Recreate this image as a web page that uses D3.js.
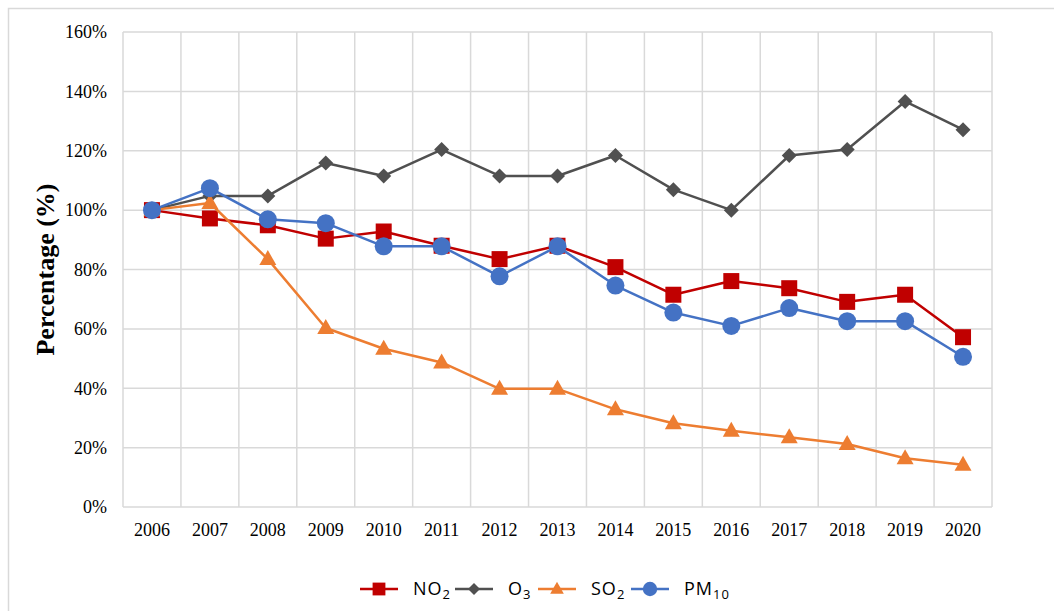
<!DOCTYPE html>
<html>
<head>
<meta charset="utf-8">
<script src="https://cdn.jsdelivr.net/npm/d3@7"></script>
<style>
	body { margin: 0; background: #fff; }
	svg { display: block; }
</style>
</head>
<body>
<svg id="chart"></svg>
<script>
// chart values
const years = ["2006", "2007", "2008", "2009", "2010", "2011", "2012", "2013", "2014", "2015", "2016", "2017", "2018", "2019", "2020"];
const no2 = [100, 97.2, 94.9, 90.4, 92.8, 88.0, 83.5, 88.0, 80.8, 71.5, 76.1, 73.7, 69.1, 71.5, 57.2];
const o3 = [100, 104.8, 104.8, 115.9, 111.5, 120.4, 111.5, 111.5, 118.4, 106.9, 100, 118.4, 120.4, 136.6, 127.1];
const so2 = [100, 102.4, 83.5, 60.3, 53.3, 48.7, 39.8, 39.8, 32.9, 28.2, 25.7, 23.5, 21.2, 16.4, 14.2];
const pm10 = [100, 107.4, 96.9, 95.6, 87.8, 87.8, 77.7, 87.8, 74.6, 65.5, 61.0, 67.0, 62.6, 62.6, 50.6];
const yTicks = [0, 20, 40, 60, 80, 100, 120, 140, 160];

const series = [
	{ name: "NO", sub: "2", values: no2, color: "#C00000", marker: "square" },
	{ name: "O", sub: "3", values: o3, color: "#505050", marker: "diamond" },
	{ name: "SO", sub: "2", values: so2, color: "#ED7D31", marker: "triangle" },
	{ name: "PM", sub: "10", values: pm10, color: "#4472C4", marker: "circle" },
];

const w = 1054, h = 611;
const margin = { left: 123, right: 62, top: 32, bottom: 104 };
const serif = "'Liberation Serif', 'Times New Roman', serif";

const svg = d3.select("#chart").attr("width", w).attr("height", h);

// outer chart border
svg.append("rect")
	.attr("x", 8.5).attr("y", 8.5)
	.attr("width", w).attr("height", h)
	.attr("fill", "none")
	.attr("stroke", "#d9d9d9")
	.attr("stroke-width", 1.5);

const xScale = d3.scaleBand()
	.domain(years)
	.range([margin.left, w - margin.right]);
const yScale = d3.scaleLinear()
	.domain([0, 160])
	.range([h - margin.bottom, margin.top]);

const grid = svg.append("g").attr("stroke", "#d9d9d9").attr("stroke-width", 1.5);

// horizontal grid lines
grid.selectAll(".hgrid")
	.data(yTicks)
	.enter()
	.append("line")
	.attr("x1", margin.left).attr("x2", w - margin.right)
	.attr("y1", (d) => yScale(d)).attr("y2", (d) => yScale(d));

// vertical grid lines at category boundaries
const bounds = years.map((d) => xScale(d)).concat([xScale.range()[1]]);
grid.selectAll(".vgrid")
	.data(bounds)
	.enter()
	.append("line")
	.attr("x1", (d) => d).attr("x2", (d) => d)
	.attr("y1", yScale(160)).attr("y2", yScale(0));

// axes drawn with d3, domain lines hidden (grid covers them)
const yAxis = d3.axisLeft(yScale).tickValues(yTicks).tickSize(0).tickPadding(16).tickFormat((d) => d + "%");
const xAxis = d3.axisBottom(xScale).tickSize(0).tickPadding(16);

svg.append("g")
	.attr("transform", "translate(" + margin.left + ",0)")
	.call(yAxis)
	.call((g) => g.select(".domain").remove())
	.selectAll("text")
	.attr("font-family", serif)
	.attr("font-size", 18)
	.attr("fill", "#000");

svg.append("g")
	.attr("transform", "translate(0," + yScale(0) + ")")
	.call(xAxis)
	.call((g) => g.select(".domain").remove())
	.selectAll("text")
	.attr("font-family", serif)
	.attr("font-size", 18)
	.attr("fill", "#000");

// y axis title
svg.append("text")
	.attr("transform", "translate(54," + yScale(80) + ") rotate(-90)")
	.attr("text-anchor", "middle")
	.attr("font-family", serif)
	.attr("font-weight", "bold")
	.attr("font-size", 26)
	.attr("fill", "#000")
	.text("Percentage (%)");

// draw a marker shape at (x, y); k scales it down for the legend
function drawMarker(g, type, x, y, color, k = 1) {
	if (type === "square") {
		const s = 8 * k;
		g.append("rect").attr("x", x - s).attr("y", y - s).attr("width", 2 * s).attr("height", 2 * s).attr("fill", color);
	} else if (type === "diamond") {
		const s = 7.5 * k;
		g.append("path").attr("d", `M${x},${y - s}L${x + s},${y}L${x},${y + s}L${x - s},${y}Z`).attr("fill", color);
	} else if (type === "triangle") {
		g.append("path").attr("d", `M${x},${y - 9 * k}L${x + 8.5 * k},${y + 6 * k}L${x - 8.5 * k},${y + 6 * k}Z`).attr("fill", color);
	} else {
		g.append("circle").attr("cx", x).attr("cy", y).attr("r", 9 * k).attr("fill", color);
	}
}

const cx = (i) => xScale(years[i]) + xScale.bandwidth() / 2;
const line = d3.line().x((d, i) => cx(i)).y((d) => yScale(d));

series.forEach((s) => {
	const g = svg.append("g");
	g.append("path")
		.datum(s.values)
		.attr("d", line)
		.attr("fill", "none")
		.attr("stroke", s.color)
		.attr("stroke-width", 2.5)
		.attr("stroke-linejoin", "round");
	s.values.forEach((v, i) => drawMarker(g, s.marker, cx(i), yScale(v), s.color));
});

// legend
const legendX = [360, 455, 538, 631];
const legendY = 589;
const legend = svg.append("g");
series.forEach((s, i) => {
	const x0 = legendX[i];
	legend.append("line")
		.attr("x1", x0).attr("x2", x0 + 38)
		.attr("y1", legendY).attr("y2", legendY)
		.attr("stroke", s.color).attr("stroke-width", 2.5);
	drawMarker(legend, s.marker, x0 + 19, legendY, s.color, 0.8);
	const t = legend.append("text")
		.attr("x", x0 + 53).attr("y", legendY + 6)
		.attr("font-family", "'Open Sans', sans-serif")
		.attr("font-size", 18)
		.attr("letter-spacing", 1)
		.attr("fill", "#000");
	t.append("tspan").text(s.name);
	t.append("tspan").attr("font-size", 13).attr("dy", 4).text(s.sub);
});
</script>
</body>
</html>
